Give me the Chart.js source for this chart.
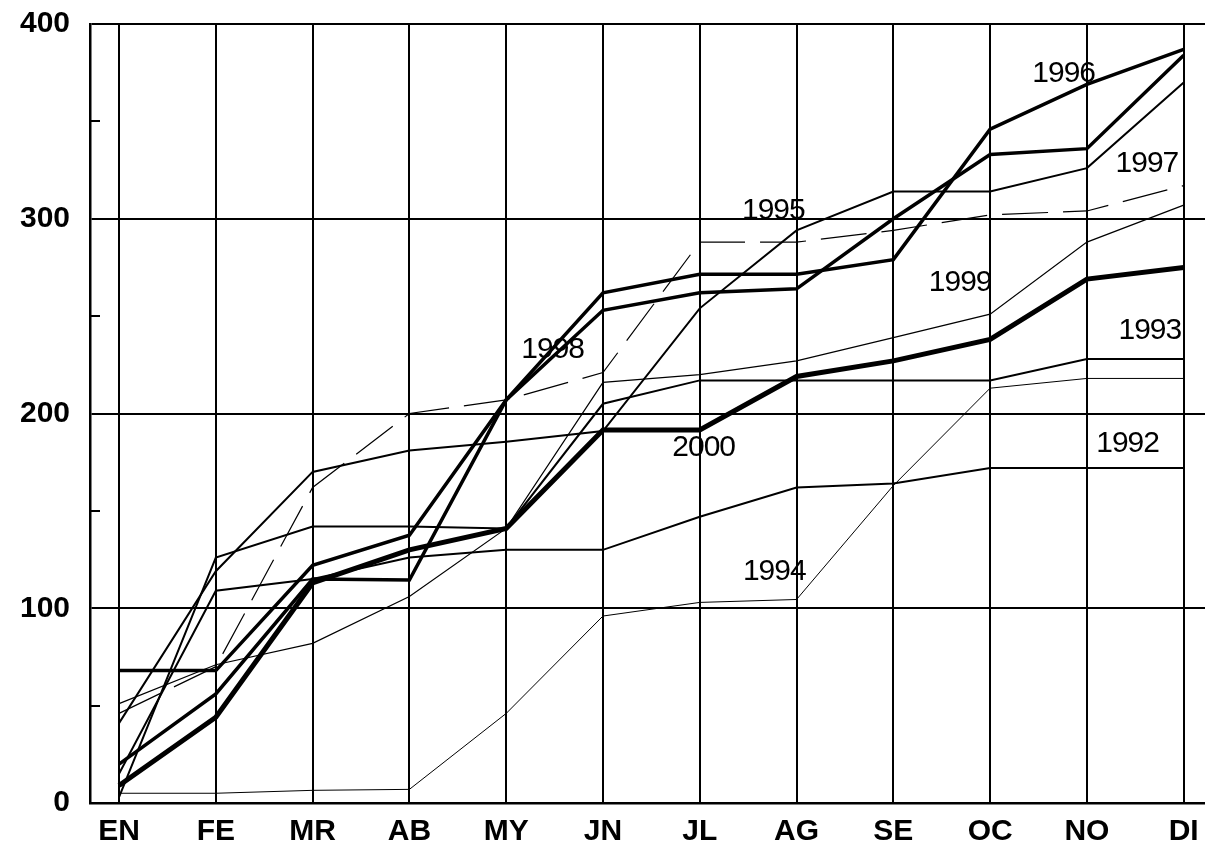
<!DOCTYPE html>
<html>
<head>
<meta charset="utf-8">
<script src="https://cdn.jsdelivr.net/npm/chart.js@4.4.1/dist/chart.umd.min.js"></script>
<style>
  html, body { margin: 0; padding: 0; background: #fff; }
  #wrap { width: 1205px; height: 852px; }
</style>
</head>
<body>
<div id="wrap"><canvas id="chart"></canvas></div>
<script>
// Month codes along the bottom
const months = ['EN', 'FE', 'MR', 'AB', 'MY', 'JN', 'JL', 'AG', 'SE', 'OC', 'NO', 'DI'];

// Cumulative values per year
const y1992 = [15, 109, 115, 126, 130, 130, 147, 162, 164, 172, 172, 172];
const y1993 = [3, 126, 142, 142, 141, 205, 217, 217, 217, 217, 228, 228];
const y1994 = [5, 5, 6.5, 7, 46, 96, 103, 104.5, 163, 213, 218, 218];
const y1995 = [41, 119, 170, 181, 185.5, 191, 254, 294, 314, 314, 326, 370];
const y1996 = [68, 68, 122, 137.5, 207, 262, 271.5, 271.5, 279, 346, 369, 387];
const y1997 = [46, 70, 162, 200, 207, 221, 288, 288, 294, 302, 304, 317];
const y1998 = [20, 56, 115, 114.5, 207, 253, 262, 264, 300, 333, 336, 384];
const y1999 = [51, 71, 82, 106, 141, 216, 220, 227, 239, 251, 288, 307];
const y2000 = [9, 44, 113, 130, 141, 191.5, 191.5, 219, 227, 238, 269, 275];

// Value axis ticks
const yTicks = [0, 50, 100, 150, 200, 250, 300, 350, 400];

// Where the year captions sit, in axis units (month index, value)
const captionText = ['1992', '1993', '1994', '1995', '1996', '1997', '1998', '1999', '2000'];
const captionAt = [10.42, 10.65, 6.77, 6.76, 9.76, 10.62, 4.48, 8.69, 6.04];
const captionVal = [184.3, 242.5, 118.8, 304.1, 374.3, 328.3, 232.8, 267.4, 182.4];

const FONT = '"Liberation Sans", Arial, sans-serif';

const series = [
    { label: '2000', data: y2000, width: 5 },
    { label: '1996', data: y1996, width: 3.5 },
    { label: '1998', data: y1998, width: 3.5 },
    { label: '1992', data: y1992, width: 2 },
    { label: '1993', data: y1993, width: 2 },
    { label: '1995', data: y1995, width: 2 },
    { label: '1999', data: y1999, width: 1.2 },
    { label: '1994', data: y1994, width: 1 },
    { label: '1997', data: y1997, width: 1.2, dash: [46, 15] },
];

// Inward minor ticks + year captions
const extras = {
    id: 'extras',
    afterDraw(chart) {
        const { ctx, scales: { x, y } } = chart;
        ctx.save();
        ctx.strokeStyle = '#000';
        ctx.lineWidth = 2;
        yTicks.filter(v => v % 100 !== 0).forEach(v => {
            const py = Math.round(y.getPixelForValue(v));
            ctx.beginPath();
            ctx.moveTo(x.left, py);
            ctx.lineTo(x.left + 10, py);
            ctx.stroke();
        });
        ctx.fillStyle = '#000';
        ctx.font = '30px ' + FONT;
        ctx.letterSpacing = '-1px';
        ctx.textAlign = 'center';
        ctx.textBaseline = 'middle';
        captionText.forEach((t, i) => {
            ctx.fillText(t, x.getPixelForValue(captionAt[i]), y.getPixelForValue(captionVal[i]));
        });
        ctx.restore();
    },
};

new Chart(document.getElementById('chart'), {
    type: 'line',
    data: {
        datasets: series.map(s => ({
            label: s.label,
            data: s.data.map((v, i) => ({ x: i, y: v })),
            borderColor: '#000',
            borderWidth: s.width,
            borderDash: s.dash || [],
            pointRadius: 0,
            tension: 0,
            fill: false,
        })),
    },
    options: {
        responsive: true,
        maintainAspectRatio: false,
        animation: false,
        layout: { padding: { top: 24, right: 0, left: 0, bottom: 0 } },
        plugins: { legend: { display: false }, tooltip: { enabled: false } },
        scales: {
            x: {
                type: 'linear',
                min: -0.3,
                max: 11.22,
                afterBuildTicks: (s) => { s.ticks = months.map((_, i) => ({ value: i })); },
                afterFit: (s) => { s.height = 49; s.paddingLeft = 0; s.paddingRight = 0; },
                grid: { color: '#000', lineWidth: 2, drawTicks: false },
                border: { display: true, color: '#000', width: 2.5 },
                ticks: {
                    color: '#000',
                    padding: 11,
                    autoSkip: false,
                    maxRotation: 0,
                    font: { family: FONT, size: 30, weight: 'bold' },
                    callback: (v) => months[v],
                },
            },
            y: {
                min: 0,
                max: 400,
                afterBuildTicks: (s) => { s.ticks = yTicks.map(v => ({ value: v })); },
                afterFit: (s) => { s.width = 90; s.paddingTop = 0; s.paddingBottom = 0; },
                grid: {
                    color: (c) => (c.tick && c.tick.value % 100 === 0 ? '#000' : 'rgba(0,0,0,0)'),
                    lineWidth: 2,
                    drawTicks: false,
                },
                border: { display: true, color: '#000', width: 2.5 },
                ticks: {
                    color: '#000',
                    padding: 20,
                    font: { family: FONT, size: 30, weight: 'bold' },
                    callback: (v) => (v % 100 === 0 ? String(v) : ''),
                },
            },
        },
    },
    plugins: [extras],
});
</script>
</body>
</html>
